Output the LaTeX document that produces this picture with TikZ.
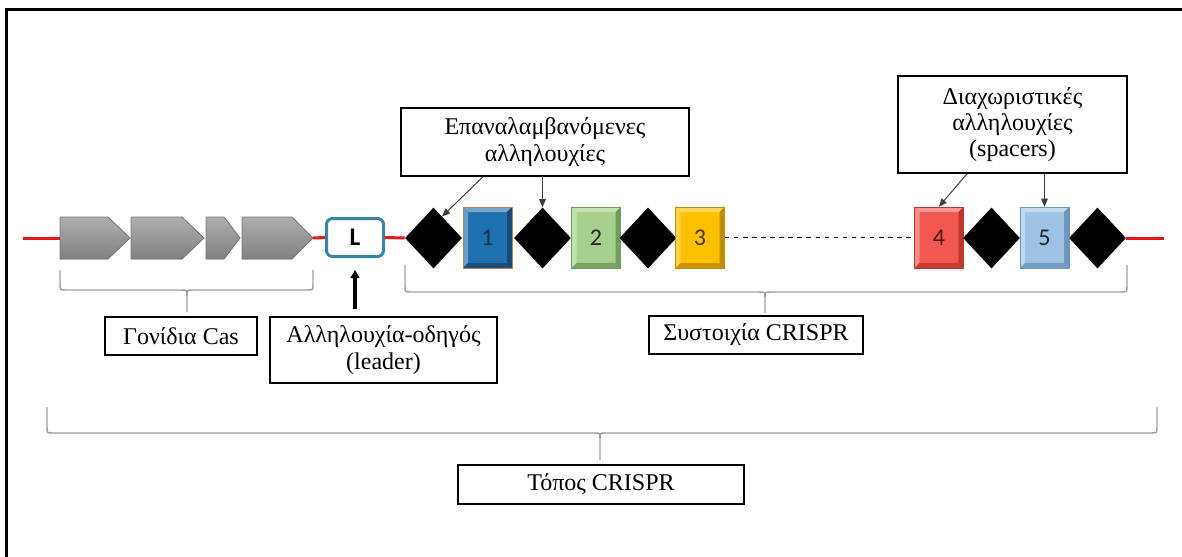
\documentclass[tikz,border=0pt]{standalone}
\usepackage{fontspec}
\setmainfont{Liberation Serif}
\newfontfamily\calib{Carlito}
\usetikzlibrary{shapes.geometric,arrows.meta,calc}

\definecolor{dnared}{RGB}{228,24,24}
\definecolor{leaderblue}{RGB}{52,134,164}
\definecolor{genefill}{RGB}{160,160,160}
\definecolor{geneline}{RGB}{120,120,120}
\definecolor{bracegray}{RGB}{160,160,160}
\definecolor{pointer}{RGB}{60,60,60}
% spacer colours: base, light bevel, dark bevel
\definecolor{sA}{RGB}{31,112,175}   \definecolor{sAl}{RGB}{122,164,200} \definecolor{sAd}{RGB}{26,72,110} \definecolor{sAo}{RGB}{190,125,95}
\definecolor{sB}{RGB}{168,208,141}  \definecolor{sBl}{RGB}{200,226,182} \definecolor{sBd}{RGB}{112,155,92}
\definecolor{sC}{RGB}{255,192,0}    \definecolor{sCl}{RGB}{255,214,90}  \definecolor{sCd}{RGB}{190,140,0}
\definecolor{sD}{RGB}{243,88,80}    \definecolor{sDl}{RGB}{248,150,145} \definecolor{sDd}{RGB}{190,55,45}
\definecolor{sE}{RGB}{157,195,230}  \definecolor{sEl}{RGB}{196,219,240} \definecolor{sEd}{RGB}{110,150,190}

\tikzset{
  gene/.style={draw=geneline, line width=0.6pt, top color=genefill!85!white, bottom color=genefill!80!black},
  repeatd/.style={diamond, fill=black, inner sep=0pt, minimum width=42.75pt, minimum height=45.75pt},
  spacer/.style n args={4}{rectangle, inner sep=0pt, minimum width=36.75pt, minimum height=45.75pt,
    fill=#1, draw=#4, line width=0.5pt, text=black!85,
    font=\calib\fontsize{18}{18}\selectfont,
    path picture={
      \fill[#2] (path picture bounding box.north west) -- (path picture bounding box.north east)
        -- ([shift={(-3.75pt,-3.75pt)}]path picture bounding box.north east)
        -- ([shift={(3.75pt,-3.75pt)}]path picture bounding box.north west) -- cycle;
      \fill[#2!85!#1] (path picture bounding box.north west) -- (path picture bounding box.south west)
        -- ([shift={(3.75pt,3.75pt)}]path picture bounding box.south west)
        -- ([shift={(3.75pt,-3.75pt)}]path picture bounding box.north west) -- cycle;
      \fill[#3] (path picture bounding box.north east) -- (path picture bounding box.south east)
        -- ([shift={(-3.75pt,3.75pt)}]path picture bounding box.south east)
        -- ([shift={(-3.75pt,-3.75pt)}]path picture bounding box.north east) -- cycle;
      \fill[#3!85!#1] (path picture bounding box.south west) -- (path picture bounding box.south east)
        -- ([shift={(-3.75pt,3.75pt)}]path picture bounding box.south east)
        -- ([shift={(3.75pt,3.75pt)}]path picture bounding box.south west) -- cycle;
    }},
  leaderbox/.style={draw=leaderblue, fill=white, line width=2.25pt, rounded corners=4.5pt,
    minimum width=42.75pt, minimum height=28.5pt, inner sep=0pt,
    font=\calib\bfseries\fontsize{19}{19}\selectfont},
  caption/.style={draw=black, line width=1.1pt, fill=white, align=center, inner sep=0pt,
    font=\fontsize{18}{19.75}\selectfont},
  brace/.style={draw=bracegray, line width=1.1pt},
  dna/.style={draw=dnared, line width=2.25pt},
  gap/.style={draw=black, line width=0.75pt, dash pattern=on 3.4pt off 3.4pt},
  pointto/.style={draw=pointer, line width=0.75pt, -{Triangle[length=6pt,width=5pt]}},
  leadto/.style={draw=black, line width=2.4pt, -{Triangle[length=6pt,width=6.5pt]}}
}

\begin{document}
\begin{tikzpicture}[x=0.75pt,y=-0.75pt]
\useasboundingbox (0,0) rectangle (1182,557);

% page frame (left and top edges)
\draw[line width=2.25pt] (6.5,557) -- (6.5,9.5) -- (1182,9.5);

% DNA ends
\coordinate (redL) at (23,238);
\coordinate (redR) at (1164,238);
\coordinate (g1w) at (60,238);
\coordinate (g4e) at (313,238);

% cas genes
\filldraw[gene] (60,217) -- (108,217) -- (130,238) -- (108,259) -- (60,259) -- cycle;
\filldraw[gene] (131,217) -- (182,217) -- (204,238) -- (182,259) -- (131,259) -- cycle;
\filldraw[gene] (206,217) -- (224,217) -- (240,238) -- (224,259) -- (206,259) -- cycle;
\filldraw[gene] (242,217) -- (292,217) -- (313,238) -- (292,259) -- (242,259) -- cycle;

% leader
\node[leaderbox] (L) at (355,237.5) {L};

% repeats and spacers
\node[repeatd] (d1) at (433.5,238) {};
\node[spacer={sA}{sAl}{sAd}{sAo}, text=sAd!70!black] (s1) at (487.5,237.5) {1};
\node[repeatd] (d2) at (542.5,238) {};
\node[spacer={sB}{sBl}{sBd}{sBd}] (s2) at (596,237.5) {2};
\node[repeatd] (d3) at (648,238) {};
\node[spacer={sC}{sCl}{sCd}{sCd}, text=sCd!40!black] (s3) at (700,237.5) {3};
\node[spacer={sD}{sDl}{sDd}{sDd}, text=sDd!40!black] (s4) at (939,237.5) {4};
\node[repeatd] (d4) at (991.5,238) {};
\node[spacer={sE}{sEl}{sEd}{sEd}] (s5) at (1044.5,237.5) {5};
\node[repeatd] (d5) at (1097.5,238) {};

% DNA strand pieces
\draw[dna] (redL) -- (g1w);
\draw[dna] (g4e) -- (L.west);
\draw[dna] (L.east) -- (d1.west);
\draw[dna] (d5.east) -- (redR);
\draw[gap] (s3.east) -- (s4.west);

% braces
\draw[brace] (60,270) -- (60,284) .. controls (60,290) .. (66,290) -- (181,290) .. controls (187,290) .. (187,296) -- (187,312)
  (187,296) .. controls (187,290) .. (193,290) -- (307,290) .. controls (313,290) .. (313,284) -- (313,270);
\draw[brace] (405,265) -- (405,286) .. controls (405,292) .. (411,292) -- (759,292) .. controls (765,292) .. (765,298) -- (765,313)
  (765,298) .. controls (765,292) .. (771,292) -- (1121,292) .. controls (1127,292) .. (1127,286) -- (1127,265);
\draw[brace] (47,407) -- (47,427) .. controls (47,433) .. (53,433) -- (594,433) .. controls (600,433) .. (600,439) -- (600,460)
  (600,439) .. controls (600,433) .. (606,433) -- (1151,433) .. controls (1157,433) .. (1157,427) -- (1157,407);

% captions
\node[caption, minimum width=114pt, minimum height=28.5pt] (cas) at (181,336) {Γονίδια Cas};
\node[caption, minimum width=170.25pt, minimum height=49.5pt] (lead) at (383.5,350) {Αλληλουχία-οδηγός\\(leader)};
\node[caption, minimum width=160.5pt, minimum height=28.5pt] (arr) at (756,335) {Συστοιχία CRISPR};
\node[caption, minimum width=216pt, minimum height=51pt] (rep) at (545,142) {Επαναλαμβανόμενες\\αλληλουχίες};
\node[caption, minimum width=171.75pt, minimum height=72.75pt] (spc) at (1012.5,124.5) {Διαχωριστικές\\αλληλουχίες\\(spacers)};
\node[caption, minimum width=214.5pt, minimum height=29.25pt] (loc) at (601,484.5) {Τόπος CRISPR};

% pointers
\draw[pointto] ([xshift=-46.5pt]rep.south) -- ($(d1.north)!0.3!(d1.east)$);
\draw[pointto] (rep.south -| d2.north) -- (d2.north);
\draw[pointto] ([xshift=-34.1pt]spc.south) -- (s4.north);
\draw[pointto] (spc.south -| s5.north) -- (s5.north);
\draw[leadto, shorten <=5.25pt, shorten >=9pt] (lead.north -| L.south) -- (L.south);
\end{tikzpicture}
\end{document}
